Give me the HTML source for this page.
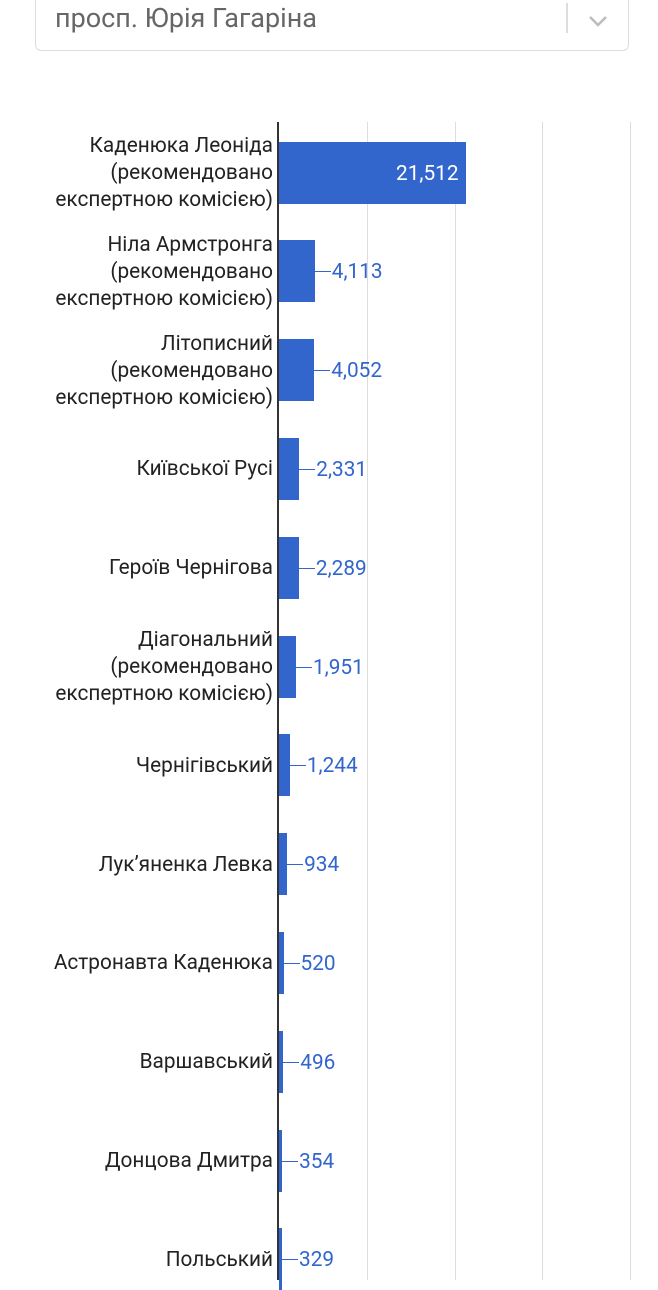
<!DOCTYPE html>
<html><head><meta charset="utf-8"><style>
body{margin:0;width:658px;height:1280px;background:#fff;overflow:hidden;position:relative;font-family:"Roboto","Liberation Sans","DejaVu Sans",sans-serif}
.dd{position:absolute;left:35px;top:-10px;width:594px;height:61px;border:1.5px solid #ddd;border-radius:6px;box-sizing:border-box}
.dd .t{position:absolute;left:19px;top:11px;font-size:27px;color:#666}
.dd .sep{position:absolute;left:530px;top:12px;width:2px;height:30px;background:#ddd}
.lab{position:absolute;right:385px;text-align:right;font-size:20.8px;line-height:27px;color:#222;white-space:nowrap}
.bar{position:absolute;left:279px;height:62px;background:#3366cc}
.v{position:absolute;font-size:20.8px;color:#3366cc;line-height:20px}
.ld{position:absolute;height:1px;background:#3366cc;width:16px}
.g{position:absolute;top:122px;bottom:0;width:1px;background:#ddd}
</style></head><body>
<div class="dd"><div class="t">просп. Юрія Гагаріна</div><div class="sep"></div>
<svg style="position:absolute;left:551px;top:23px" width="22" height="14"><polyline points="3,3 11,11 19,3" fill="none" stroke="#bbb" stroke-width="2.5"/></svg></div>
<div class="g" style="left:367px"></div><div class="g" style="left:455px"></div><div class="g" style="left:542px"></div><div class="g" style="left:630px"></div>
<div style="position:absolute;left:277px;top:122px;bottom:0;width:2px;background:#333"></div>
<div id="c"></div>
<script>
var d=[["Каденюка Леоніда<br>(рекомендовано<br>експертною комісією)",21512,"21,512",3],["Ніла Армстронга<br>(рекомендовано<br>експертною комісією)",4113,"4,113",3],["Літописний<br>(рекомендовано<br>експертною комісією)",4052,"4,052",3],["Київської Русі",2331,"2,331",1],["Героїв Чернігова",2289,"2,289",1],["Діагональний<br>(рекомендовано<br>експертною комісією)",1951,"1,951",3],["Чернігівський",1244,"1,244",1],["Лук’яненка Левка",934,"934",1],["Астронавта Каденюка",520,"520",1],["Варшавський",496,"496",1],["Донцова Дмитра",354,"354",1],["Польський",329,"329",1]];
var h="";d.forEach(function(r,i){var c=172.5+i*98.8,w=Math.max(3,r[1]*187/21512);
h+='<div class="lab" style="top:'+(c-r[3]*13.5+1)+'px">'+r[0]+'</div>';
h+='<div class="bar" style="top:'+(c-31)+'px;width:'+w+'px"></div>';
if(i==0)h+='<div class="v" style="color:#fff;left:396px;top:'+(c-9)+'px">'+r[2]+'</div>';
else{var x=279+w;h+='<div class="ld" style="left:'+x+'px;top:'+c+'px"></div><div class="v" style="left:'+(x+17)+'px;top:'+(c-9)+'px">'+r[2]+'</div>';}
});document.getElementById("c").innerHTML=h;
</script>
</body></html>
